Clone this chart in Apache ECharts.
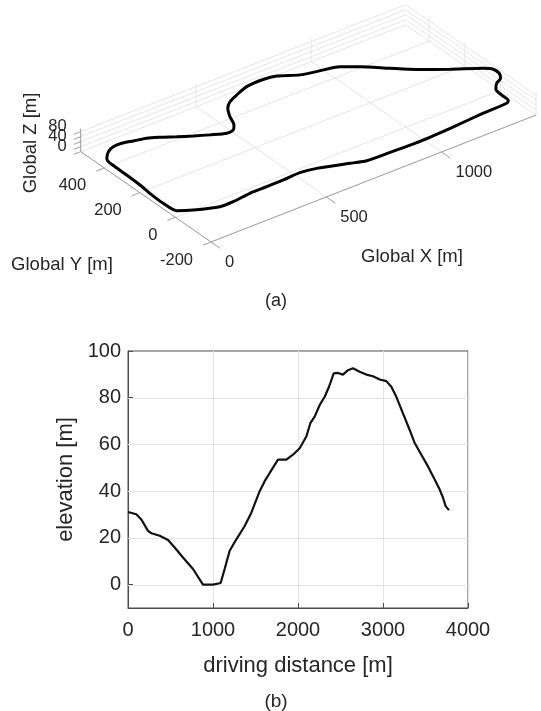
<!DOCTYPE html>
<html>
<head>
<meta charset="utf-8">
<script src="https://cdn.jsdelivr.net/npm/echarts@6/dist/echarts.min.js"></script>
<style>
html, body { margin: 0; padding: 0; background: #fff; }
#main { width: 541px; height: 711px; }
</style>
</head>
<body>
<div id="main"></div>
<script>
// (a) track, global coordinates in metres
var trackX = [796, 728, 672, 565, 502, 428, 357, 287, 210, 156, 73, 27, 22, 24, 31, 31, 23, 21,
    29, 57, 88, 122, 162, 206, 242, 285, 330, 378, 427, 457, 478, 500, 527, 558, 602, 660,
    727, 775, 838, 893, 970, 1025, 1100, 1169, 1265, 1362, 1387, 1387, 1372, 1342, 1317,
    1313, 1313, 1299, 1202, 1064, 923, 796];
var trackY = [-138, -133, -111, -62, -49, -52, -51, -47, -53, -48, -6, 28, 97, 164, 239, 314, 369, 403,
    423, 450, 463, 460, 446, 428, 399, 362, 327, 295, 264, 267, 290, 341, 388, 416, 435, 454,
    449, 434, 385, 363, 331, 291, 219, 159, 95, 34, 10, -23, -50, -67, -95,
    -133, -170, -179, -173, -166, -160, -138];
var trackZ = [31, 30, 29, 23, 22, 21, 19, 16, 13, 10, 6, 3, 0, 0, 0, 3, 12, 16,
    17, 20, 22, 25, 27, 31, 36, 41, 45, 48, 52, 53, 54, 54, 55, 56, 58, 61,
    68, 72, 78, 82, 90, 90, 92, 92, 90, 89, 88, 88, 87, 86, 85,
    82, 78, 77, 69, 55, 45, 31];
var xTicks3 = [0, 500, 1000];
var yTicks3 = [-200, 0, 200, 400];
var zTicks3 = [0, 20, 40, 60, 80];
var zLabels3 = [0, 40, 80];
var xLim3 = [0, 1410];
var yLim3 = [-200, 532];
var zLim3 = [0, 92];

// (b) elevation profile
var distance = [0, 98, 157, 235, 275, 373, 471, 549, 647, 765, 882, 1000, 1090, 1137, 1196, 1275,
    1373, 1451, 1549, 1608, 1667, 1765, 1863, 1941, 2020, 2098, 2145, 2196, 2255, 2314, 2365,
    2420, 2471, 2529, 2588, 2647, 2725, 2804, 2882, 2961, 3039, 3098, 3157, 3235, 3314, 3373,
    3451, 3529, 3608, 3667, 3706, 3737, 3776];
var elevation = [31.1, 30.1, 27.9, 23.0, 22.0, 20.9, 19.1, 15.9, 11.6, 6.7, 0, 0, 0.7, 6.7, 14.5, 19.4,
    25.1, 30.8, 40.0, 44.3, 47.8, 53.5, 53.5, 55.6, 58.4, 63.4, 69.1, 71.9, 76.9, 80.4, 84.7,
    90.4, 90.6, 89.9, 91.8, 92.6, 91.1, 89.9, 89.2, 87.8, 87.1, 84.7, 80.4, 73.3, 66.2, 60.6,
    55.6, 50.6, 45.0, 40.7, 37.2, 33.6, 31.9];
var distTicks = [0, 1000, 2000, 3000, 4000];
var elevTicks = [0, 20, 40, 60, 80, 100];

var FONT = 'Liberation Sans, Arial, Helvetica, sans-serif';
var TXT = '#262626';

// oblique view of the 3d box (pixels per metre)
var view = { ox: 175.4, oy: 217.3, ex: [0.2305, -0.09], ey: [-0.178, -0.1234], ez: -0.25 };
function project(x, y, z) {
    return [view.ox + x * view.ex[0] + y * view.ey[0],
            view.oy + x * view.ex[1] + y * view.ey[1] + z * view.ez];
}

// grid + axis segments: [u1, v1, u2, v2, kind]  kind 0 = grid, 1 = axis
var segs = [];
function seg(a, b, kind) {
    var p = project(a[0], a[1], a[2]), q = project(b[0], b[1], b[2]);
    segs.push([p[0], p[1], q[0], q[1], kind]);
}
xTicks3.forEach(function (x) {
    seg([x, yLim3[0], 0], [x, yLim3[1], 0], 0);
    seg([x, yLim3[1], 0], [x, yLim3[1], zLim3[1]], 0);
});
yTicks3.forEach(function (y) {
    seg([xLim3[0], y, 0], [xLim3[1], y, 0], 0);
    seg([xLim3[1], y, 0], [xLim3[1], y, zLim3[1]], 0);
});
zTicks3.forEach(function (z) {
    seg([xLim3[0], yLim3[1], z], [xLim3[1], yLim3[1], z], 0);
    seg([xLim3[1], yLim3[1], z], [xLim3[1], yLim3[0], z], 0);
});
seg([xLim3[0], yLim3[0], 0], [xLim3[1], yLim3[0], 0], 1);
seg([xLim3[0], yLim3[0], 0], [xLim3[0], yLim3[1], 0], 1);
seg([xLim3[0], yLim3[1], 0], [xLim3[0], yLim3[1], zLim3[1]], 1);
xTicks3.forEach(function (x) { seg([x, yLim3[0], 0], [x, yLim3[0] - 50, 0], 1); });
yTicks3.forEach(function (y) { seg([xLim3[0], y, 0], [xLim3[0] - 35, y, 0], 1); });
zTicks3.forEach(function (z) { seg([xLim3[0], yLim3[1], z], [xLim3[0] - 30, yLim3[1], z], 1); });

// tick labels: [u, v, dx, dy, align]  align 0 = left, 1 = right
var labels = [], labelText = [];
xTicks3.forEach(function (x) {
    var p = project(x, yLim3[0], 0);
    labels.push([p[0], p[1], 14, 20, 0]); labelText.push(String(x));
});
yTicks3.forEach(function (y) {
    var p = project(xLim3[0], y, 0);
    labels.push([p[0], p[1], -18, 18, 1]); labelText.push(String(y));
});
zLabels3.forEach(function (z) {
    var p = project(xLim3[0], yLim3[1], z);
    labels.push([p[0], p[1], -14, -5, 1]); labelText.push(String(z));
});

var trackPts = trackX.map(function (x, i) { return project(x, trackY[i], trackZ[i]); });
var profile = distance.map(function (d, i) { return [d, elevation[i]]; });
// horizontal grid lines of (b): [x0, y, x1]
var elevGrid = elevTicks.filter(function (v) { return v < 100; }).map(function (v) {
    return [distTicks[0], v, distTicks[distTicks.length - 1]];
});

var chart = echarts.init(document.getElementById('main'));
var option = {
    backgroundColor: '#fff',
    animation: false,
    grid: [
        { left: 0, top: 0, width: 541, height: 300 },
        { left: 128, right: 73, top: 351, bottom: 103, show: true, borderColor: '#4d4d4d', borderWidth: 1 }
    ],
    xAxis: [
        { gridIndex: 0, type: 'value', min: 0, max: 541, show: false },
        {
            gridIndex: 1, type: 'value', min: 0, max: 4000, interval: 1000,
            name: 'driving distance [m]', nameLocation: 'middle', nameGap: 47,
            nameTextStyle: { fontSize: 22, color: TXT, fontFamily: FONT },
            axisLine: { onZero: false, lineStyle: { color: '#4d4d4d' } },
            axisTick: { inside: true, length: 5, customValues: distTicks, lineStyle: { color: '#4d4d4d' } },
            axisLabel: { fontSize: 20, color: TXT, fontFamily: FONT, margin: 12,
                formatter: function (v) { return String(v); } },
            splitLine: { show: true, lineStyle: { color: '#e3e3e3' } }
        }
    ],
    yAxis: [
        { gridIndex: 0, type: 'value', min: 0, max: 300, inverse: true, show: false },
        {
            gridIndex: 1, type: 'value', min: -10, max: 100, interval: 10,
            name: 'elevation [m]', nameLocation: 'middle', nameGap: 49,
            nameTextStyle: { fontSize: 22, color: TXT, fontFamily: FONT },
            axisLine: { show: true, onZero: false, lineStyle: { color: '#4d4d4d' } },
            axisTick: { inside: true, length: 5, customValues: elevTicks, lineStyle: { color: '#4d4d4d' } },
            axisLabel: { fontSize: 20, color: TXT, fontFamily: FONT, margin: 7, customValues: elevTicks },
            splitLine: { show: false }
        }
    ],
    series: [
        {
            type: 'custom', xAxisIndex: 0, yAxisIndex: 0, silent: true, z: 1,
            data: segs,
            renderItem: function (params, api) {
                var a = api.coord([api.value(0), api.value(1)]);
                var b = api.coord([api.value(2), api.value(3)]);
                var isAxis = api.value(4) === 1;
                return {
                    type: 'line',
                    shape: { x1: a[0], y1: a[1], x2: b[0], y2: b[1] },
                    style: { stroke: isAxis ? '#a0a0a0' : '#e6e6e6', lineWidth: 1 }
                };
            }
        },
        {
            type: 'custom', xAxisIndex: 0, yAxisIndex: 0, silent: true, z: 3,
            data: labels,
            renderItem: function (params, api) {
                var p = api.coord([api.value(0), api.value(1)]);
                return {
                    type: 'text',
                    x: p[0] + api.value(2), y: p[1] + api.value(3),
                    style: {
                        text: labelText[params.dataIndex], fill: TXT,
                        font: '16.5px ' + FONT,
                        align: api.value(4) === 1 ? 'right' : 'left', verticalAlign: 'middle'
                    }
                };
            }
        },
        {
            type: 'line', xAxisIndex: 0, yAxisIndex: 0, z: 4,
            data: trackPts, showSymbol: false, smooth: 0.25, silent: true,
            lineStyle: { color: '#000', width: 3 }
        },
        {
            type: 'custom', xAxisIndex: 1, yAxisIndex: 1, silent: true, z: 1,
            data: elevGrid,
            renderItem: function (params, api) {
                var a = api.coord([api.value(0), api.value(1)]);
                var b = api.coord([api.value(2), api.value(1)]);
                return {
                    type: 'line',
                    shape: { x1: a[0], y1: Math.round(a[1]) + 0.5, x2: b[0], y2: Math.round(b[1]) + 0.5 },
                    style: { stroke: '#e3e3e3', lineWidth: 1 }
                };
            }
        },
        {
            type: 'line', xAxisIndex: 1, yAxisIndex: 1, z: 4,
            data: profile, showSymbol: false, silent: true,
            lineStyle: { color: '#111', width: 2.2 }
        }
    ],
    graphic: [
        { type: 'text', x: 412, y: 257, style: { text: 'Global X [m]', font: '18.5px ' + FONT, fill: TXT, align: 'center', verticalAlign: 'middle' } },
        { type: 'text', x: 62, y: 265, style: { text: 'Global Y [m]', font: '18.5px ' + FONT, fill: TXT, align: 'center', verticalAlign: 'middle' } },
        { type: 'text', x: 31, y: 143, rotation: Math.PI / 2, style: { text: 'Global Z [m]', font: '18.5px ' + FONT, fill: TXT, align: 'center', verticalAlign: 'middle' } },
        { type: 'text', x: 276, y: 301, style: { text: '(a)', font: '18px ' + FONT, fill: TXT, align: 'center', verticalAlign: 'middle' } },
        { type: 'text', x: 276, y: 702, style: { text: '(b)', font: '19px ' + FONT, fill: TXT, align: 'center', verticalAlign: 'middle' } }
    ]
};
chart.setOption(option);
window.onresize = function () { chart.resize(); };
</script>
</body>
</html>
